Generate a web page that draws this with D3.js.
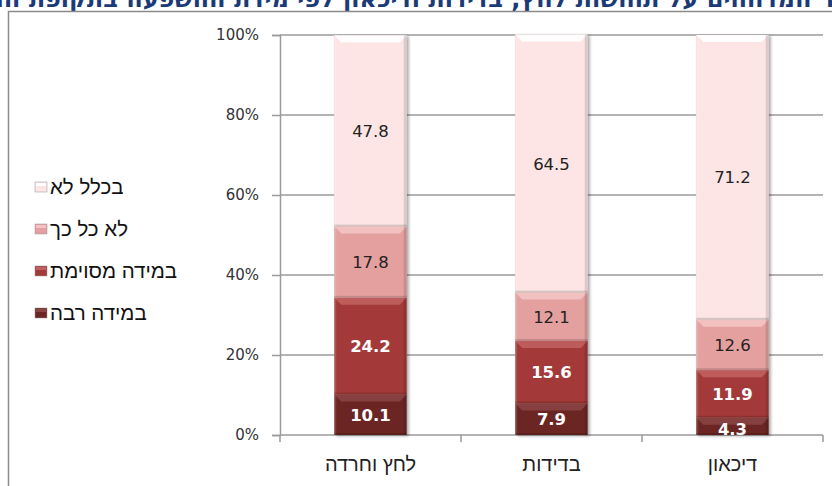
<!DOCTYPE html>
<html lang="he">
<head>
<meta charset="utf-8">
<script src="https://cdn.jsdelivr.net/npm/d3@7"></script>
<style>
  body { margin: 0; background: #fff; }
  svg { display: block; }
</style>
</head>
<body>
<div class="graph-container"></div>
<script>
// data
const categories = ['לחץ וחרדה', 'בדידות', 'דיכאון'];
const seriesNames = ['במידה רבה', 'במידה מסוימת', 'לא כל כך', 'בכלל לא'];
const muchValues = [10.1, 7.9, 4.3];
const someValues = [24.2, 15.6, 11.9];
const notMuchValues = [17.8, 12.1, 12.6];
const notAtAllValues = [47.8, 64.5, 71.2];
const yTicks = [0, 20, 40, 60, 80, 100];
const title = 'שיעור המדווחים על תחושות לחץ, בדידות ודיכאון לפי מידת ההשפעה בתקופת המשבר,';

// graph constants
const w = 832;
const h = 486;
const plot = { left: 280, right: 823, top: 35, bottom: 435 };
const colors = ['#6b2624', '#a33a39', '#e4a09f', '#fce5e4'];
const bevel = ['#8a4442', '#c0605f', '#f2c3c2', '#ffffff'];
const labelColors = ['#fff', '#fff', '#222', '#222'];

const svg = d3.select('div.graph-container')
    .append('svg')
    .attr('width', w)
    .attr('height', h);

const defs = svg.append('defs');
defs.append('filter')
    .attr('id', 'shadow')
    .attr('x', '-20%').attr('y', '-5%')
    .attr('width', '140%').attr('height', '110%')
    .append('feDropShadow')
    .attr('dx', 2).attr('dy', 1)
    .attr('stdDeviation', 1.5)
    .attr('flood-color', '#000')
    .attr('flood-opacity', 0.35);
defs.append('clipPath')
    .attr('id', 'plot-clip')
    .append('rect')
    .attr('x', plot.left).attr('y', 0)
    .attr('width', plot.right - plot.left)
    .attr('height', plot.bottom);

// title (cut off at the top of the picture, as in the source)
svg.append('text')
    .attr('x', w / 2)
    .attr('y', 7)
    .attr('text-anchor', 'middle')
    .attr('font-family', 'DejaVu Sans, sans-serif')
    .attr('font-weight', 'bold')
    .attr('font-size', 24)
    .attr('fill', '#1b3a78')
    .text(title);

// chart frame
svg.append('rect')
    .attr('x', 8.5).attr('y', 11.5)
    .attr('width', w + 20).attr('height', h + 20)
    .attr('fill', '#fff')
    .attr('stroke', '#8a8a8a')
    .attr('stroke-width', 1.5);

// scales
const xScale = d3.scaleBand()
    .domain(categories)
    .range([plot.left, plot.right])
    .paddingInner(0.6)
    .paddingOuter(0.3);
const yScale = d3.scaleLinear()
    .domain([0, 100])
    .range([plot.bottom, plot.top]);

// gridlines
svg.append('g')
    .selectAll('line')
    .data(yTicks.filter(d => d > 0))
    .join('line')
    .attr('x1', plot.left).attr('x2', plot.right)
    .attr('y1', d => yScale(d)).attr('y2', d => yScale(d))
    .attr('stroke', '#9a9a9a')
    .attr('stroke-width', 1.5);

// y axis
const yAxis = d3.axisLeft(yScale)
    .tickValues(yTicks)
    .tickFormat(d => d + '%')
    .tickSize(8)
    .tickPadding(13);
const yG = svg.append('g')
    .attr('transform', `translate(${plot.left}, 0)`)
    .call(yAxis);
yG.select('.domain').attr('stroke', '#9a9a9a').attr('stroke-width', 1.5);
yG.selectAll('.tick line').attr('stroke', '#9a9a9a').attr('stroke-width', 1.5);
yG.selectAll('.tick text')
    .attr('font-family', 'DejaVu Sans, sans-serif')
    .attr('font-size', 15)
    .attr('fill', '#333');

// x axis (ticks on category boundaries)
const boundaries = categories.map(c => xScale(c) - xScale.step() * 0.3)
    .concat([plot.right]);
const xG = svg.append('g');
xG.append('line')
    .attr('x1', plot.left).attr('x2', plot.right)
    .attr('y1', plot.bottom).attr('y2', plot.bottom)
    .attr('stroke', '#9a9a9a').attr('stroke-width', 1.5);
xG.selectAll('line.tick')
    .data(boundaries)
    .join('line')
    .attr('class', 'tick')
    .attr('x1', d => d).attr('x2', d => d)
    .attr('y1', plot.bottom).attr('y2', plot.bottom + 7)
    .attr('stroke', '#9a9a9a').attr('stroke-width', 1.5);
xG.selectAll('text')
    .data(categories)
    .join('text')
    .attr('x', d => xScale(d) + xScale.bandwidth() / 2)
    .attr('y', 471)
    .attr('text-anchor', 'middle')
    .attr('font-family', 'Liberation Sans, Arial, sans-serif')
    .attr('font-size', 20)
    .attr('fill', '#222')
    .text(d => d);

// stacked data
const rows = categories.map((c, i) => ({
    category: c,
    s0: muchValues[i], s1: someValues[i], s2: notMuchValues[i], s3: notAtAllValues[i]
}));
const stack = d3.stack().keys(['s0', 's1', 's2', 's3']);
const layers = stack(rows);

const bars = svg.append('g');
// shadow column behind each bar
bars.selectAll('rect.bg')
    .data(layers[3])
    .join('rect')
    .attr('class', 'bg')
    .attr('x', d => xScale(d.data.category))
    .attr('y', d => yScale(d[1]))
    .attr('width', xScale.bandwidth())
    .attr('height', d => yScale(0) - yScale(d[1]))
    .attr('fill', '#ccc')
    .attr('filter', 'url(#shadow)');

layers.forEach((layer, li) => {
    const g = bars.append('g');
    const seg = g.selectAll('g')
        .data(layer)
        .join('g');
    seg.append('rect')
        .attr('x', d => xScale(d.data.category))
        .attr('y', d => yScale(d[1]))
        .attr('width', xScale.bandwidth())
        .attr('height', d => yScale(d[0]) - yScale(d[1]))
        .attr('fill', colors[li]);
    // top bevel
    seg.append('polygon')
        .attr('points', d => {
            const x0 = xScale(d.data.category);
            const x1 = x0 + xScale.bandwidth();
            const y0 = yScale(d[1]);
            const b = Math.min(7, (yScale(d[0]) - y0) / 2);
            return [[x0, y0], [x1, y0], [x1 - b, y0 + b], [x0 + b, y0 + b]].join(' ');
        })
        .attr('fill', bevel[li])
        .attr('opacity', 0.9);
    // side shading
    seg.append('rect')
        .attr('x', d => xScale(d.data.category) + xScale.bandwidth() - 3)
        .attr('y', d => yScale(d[1]))
        .attr('width', 3)
        .attr('height', d => yScale(d[0]) - yScale(d[1]))
        .attr('fill', '#000')
        .attr('opacity', 0.12);
    seg.append('rect')
        .attr('x', d => xScale(d.data.category))
        .attr('y', d => yScale(d[1]))
        .attr('width', 2)
        .attr('height', d => yScale(d[0]) - yScale(d[1]))
        .attr('fill', '#fff')
        .attr('opacity', 0.12);
    // bottom edge
    seg.append('rect')
        .attr('x', d => xScale(d.data.category))
        .attr('y', d => yScale(d[0]) - 2)
        .attr('width', xScale.bandwidth())
        .attr('height', 2)
        .attr('fill', '#000')
        .attr('opacity', 0.15);
});

// value labels
const labels = svg.append('g').attr('clip-path', 'url(#plot-clip)');
layers.forEach((layer, li) => {
    labels.selectAll(null)
        .data(layer)
        .join('text')
        .attr('x', d => xScale(d.data.category) + xScale.bandwidth() / 2)
        .attr('y', d => (yScale(d[0]) + yScale(d[1])) / 2 + (d[1] - d[0] < 6 ? 3 : 0))
        .attr('dy', '0.36em')
        .attr('text-anchor', 'middle')
        .attr('font-family', 'DejaVu Sans, sans-serif')
        .attr('font-size', li < 2 ? 16.5 : 16.5)
        .attr('font-weight', li < 2 ? 'bold' : 'normal')
        .attr('fill', labelColors[li])
        .text(d => (d[1] - d[0]).toFixed(1));
});

// legend
const legendOrder = [3, 2, 1, 0];
const legend = svg.append('g');
const item = legend.selectAll('g')
    .data(legendOrder)
    .join('g')
    .attr('transform', (d, i) => `translate(35, ${187 + i * 42})`);
item.append('rect')
    .attr('x', 0).attr('y', -5)
    .attr('width', 12).attr('height', 10)
    .attr('fill', d => colors[d])
    .attr('stroke', '#999')
    .attr('stroke-width', 0.5);
item.append('rect')
    .attr('x', 1).attr('y', -4)
    .attr('width', 10).attr('height', 3)
    .attr('fill', d => bevel[d]);
item.append('text')
    .attr('x', 15)
    .attr('y', 0)
    .attr('dy', '0.36em')
    .attr('font-family', 'Liberation Sans, Arial, sans-serif')
    .attr('font-size', 20.5)
    .attr('fill', '#111')
    .text(d => seriesNames[d]);
</script>
</body>
</html>
